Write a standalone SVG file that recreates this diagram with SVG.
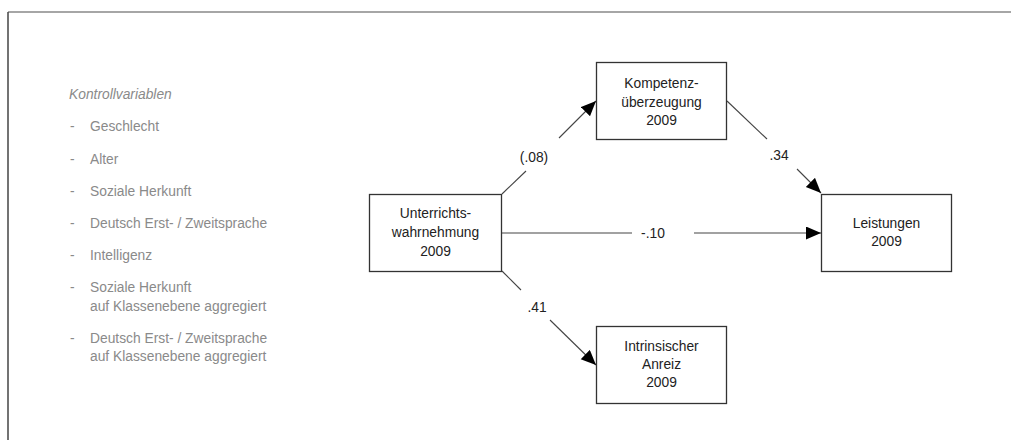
<svg xmlns="http://www.w3.org/2000/svg" width="1011" height="440" viewBox="0 0 1011 440">
<style>
.legend{font-family:"Liberation Sans",Arial,sans-serif;font-size:13.8px;fill:#8a8a8a}
.lab{font-family:"Liberation Sans",Arial,sans-serif;font-size:13.8px;fill:#222;text-anchor:middle}
.box{fill:#fff;stroke:#333;stroke-width:1.3}
.edge{stroke:#444;stroke-width:1.1;fill:none}
</style>
<defs>
<marker id="arr" markerUnits="userSpaceOnUse" markerWidth="16" markerHeight="14" refX="15" refY="6.5" orient="auto">
<path d="M0,0 L15,6.5 L0,13 z" fill="#000"/>
</marker>
</defs>
<rect width="1011" height="440" fill="#fff"/>
<line x1="8" y1="12" x2="1011" y2="12" stroke="#888" stroke-width="1.5"/>
<line x1="8" y1="12" x2="8" y2="440" stroke="#444" stroke-width="1.5"/>

<g id="legend">
<text class="legend" x="69" y="99" font-style="italic">Kontrollvariablen</text>
<text class="legend" x="70" y="131">-</text><text class="legend" x="90" y="131">Geschlecht</text>
<text class="legend" x="70" y="164">-</text><text class="legend" x="90" y="164">Alter</text>
<text class="legend" x="70" y="196">-</text><text class="legend" x="90" y="196">Soziale Herkunft</text>
<text class="legend" x="70" y="228">-</text><text class="legend" x="90" y="228">Deutsch Erst- / Zweitsprache</text>
<text class="legend" x="70" y="260">-</text><text class="legend" x="90" y="260">Intelligenz</text>
<text class="legend" x="70" y="292">-</text><text class="legend" x="90" y="292">Soziale Herkunft</text>
<text class="legend" x="90" y="311">auf Klassenebene aggregiert</text>
<text class="legend" x="70" y="343">-</text><text class="legend" x="90" y="343">Deutsch Erst- / Zweitsprache</text>
<text class="legend" x="90" y="361">auf Klassenebene aggregiert</text>
</g>

<g id="connectors">
<line class="edge" x1="502" y1="194" x2="526" y2="171"/>
<line class="edge" x1="559" y1="138" x2="596" y2="101" marker-end="url(#arr)"/>
<text class="lab" x="534" y="162">(.08)</text>
<line class="edge" x1="502" y1="233" x2="632" y2="233"/>
<line class="edge" x1="694" y1="233" x2="821" y2="233" marker-end="url(#arr)"/>
<text class="lab" x="653" y="238">-.10</text>
<line class="edge" x1="727" y1="101" x2="767" y2="139"/>
<line class="edge" x1="797" y1="169" x2="821" y2="193" marker-end="url(#arr)"/>
<text class="lab" x="779" y="160">.34</text>
<line class="edge" x1="502" y1="271" x2="521" y2="290"/>
<line class="edge" x1="550" y1="320" x2="596" y2="365" marker-end="url(#arr)"/>
<text class="lab" x="537" y="312">.41</text>
</g>

<g id="unterricht">
<rect class="box" x="369.5" y="194.5" width="132" height="77"/>
<text class="lab" x="435.5" y="218">Unterrichts-</text>
<text class="lab" x="435.5" y="237">wahrnehmung</text>
<text class="lab" x="435.5" y="256">2009</text>
</g>
<g id="kompetenz">
<rect class="box" x="596.5" y="62.5" width="130" height="77"/>
<text class="lab" x="661.5" y="88">Kompetenz-</text>
<text class="lab" x="661.5" y="107">überzeugung</text>
<text class="lab" x="661.5" y="125">2009</text>
</g>
<g id="intrinsisch">
<rect class="box" x="596.5" y="326.5" width="130" height="77"/>
<text class="lab" x="661.5" y="351">Intrinsischer</text>
<text class="lab" x="661.5" y="369">Anreiz</text>
<text class="lab" x="661.5" y="387">2009</text>
</g>
<g id="leistungen">
<rect class="box" x="821.5" y="194.5" width="130" height="77"/>
<text class="lab" x="886.5" y="228">Leistungen</text>
<text class="lab" x="886.5" y="246">2009</text>
</g>
</svg>
